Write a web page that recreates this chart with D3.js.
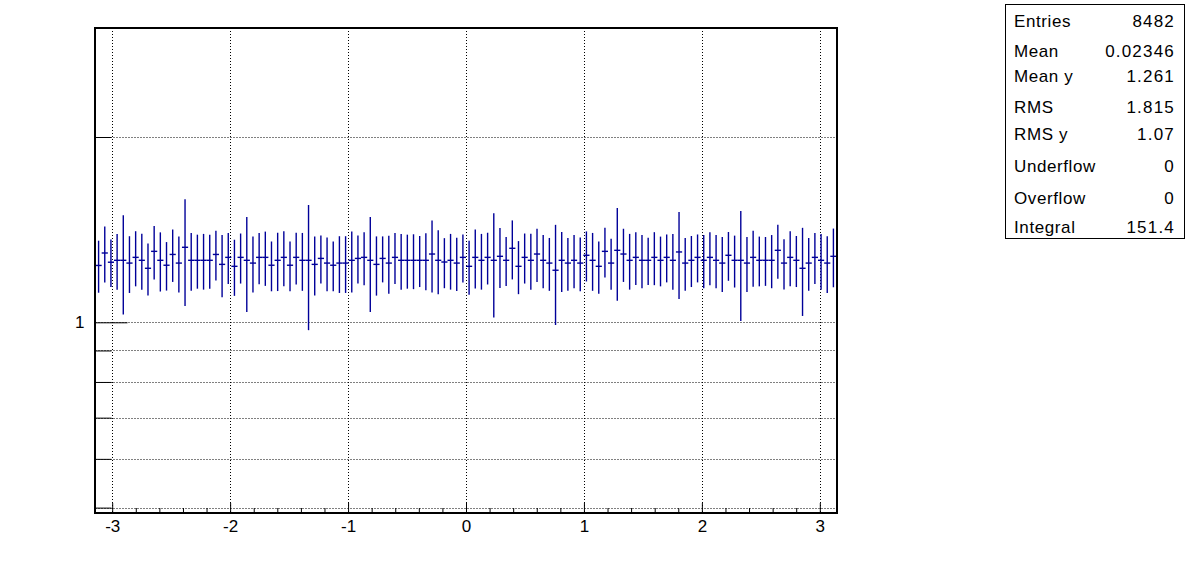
<!DOCTYPE html>
<html>
<head>
<meta charset="utf-8">
<script src="https://cdn.jsdelivr.net/npm/d3@7"></script>
<style>
  html, body { margin: 0; padding: 0; background: #fff; }
  svg { display: block; }
  text { font-family: "Liberation Sans", Arial, Helvetica, sans-serif; fill: #000; }
</style>
</head>
<body>
<svg id="chart" width="1196" height="572"></svg>
<script>
// ---- data (TProfile, 120 bins over [-pi, pi]) ----
const nBins = 120;
const xMin = -Math.PI, xMax = Math.PI;
const binMeans = [
  1.237, 1.296, 1.252, 1.261, 1.261, 1.248, 1.275, 1.261, 1.224, 1.304,
  1.261, 1.238, 1.289, 1.248, 1.324, 1.261, 1.261, 1.261, 1.261, 1.289,
  1.242, 1.275, 1.233, 1.275, 1.261, 1.248, 1.275, 1.275, 1.238, 1.261,
  1.275, 1.238, 1.275, 1.261, 1.261, 1.242, 1.270, 1.248, 1.238, 1.248,
  1.248, 1.261, 1.270, 1.275, 1.261, 1.242, 1.270, 1.248, 1.275, 1.261,
  1.261, 1.261, 1.261, 1.261, 1.291, 1.261, 1.253, 1.261, 1.248, 1.275,
  1.233, 1.275, 1.261, 1.275, 1.261, 1.280, 1.261, 1.319, 1.233, 1.275,
  1.261, 1.291, 1.261, 1.248, 1.215, 1.261, 1.248, 1.261, 1.248, 1.285,
  1.261, 1.233, 1.304, 1.248, 1.309, 1.291, 1.261, 1.275, 1.261, 1.261,
  1.275, 1.261, 1.275, 1.261, 1.301, 1.248, 1.261, 1.275, 1.261, 1.275,
  1.261, 1.248, 1.285, 1.261, 1.261, 1.248, 1.275, 1.261, 1.261, 1.261,
  1.309, 1.248, 1.275, 1.261, 1.224, 1.248, 1.275, 1.261, 1.248, 1.280
];
const binErrors = [
  0.120, 0.135, 0.111, 0.131, 0.231, 0.132, 0.131, 0.132, 0.119, 0.130,
  0.139, 0.112, 0.126, 0.130, 0.261, 0.136, 0.127, 0.131, 0.127, 0.120,
  0.144, 0.121, 0.129, 0.119, 0.222, 0.130, 0.122, 0.129, 0.115, 0.137,
  0.131, 0.115, 0.123, 0.136, 0.290, 0.137, 0.114, 0.125, 0.115, 0.132,
  0.132, 0.143, 0.114, 0.126, 0.222, 0.137, 0.109, 0.135, 0.121, 0.131,
  0.127, 0.129, 0.120, 0.134, 0.173, 0.150, 0.117, 0.131, 0.124, 0.114,
  0.124, 0.140, 0.131, 0.123, 0.243, 0.143, 0.115, 0.145, 0.122, 0.119,
  0.132, 0.128, 0.125, 0.123, 0.225, 0.141, 0.123, 0.125, 0.125, 0.120,
  0.136, 0.120, 0.121, 0.119, 0.225, 0.128, 0.131, 0.125, 0.125, 0.111,
  0.126, 0.117, 0.114, 0.131, 0.210, 0.123, 0.120, 0.114, 0.125, 0.126,
  0.125, 0.128, 0.117, 0.122, 0.256, 0.128, 0.133, 0.117, 0.115, 0.125,
  0.132, 0.117, 0.131, 0.120, 0.200, 0.123, 0.121, 0.131, 0.132, 0.140
];
const xMajorTicks = [-3, -2, -1, 0, 1, 2, 3];
const xMinorTicks = [-2.8, -2.6, -2.4, -2.2, -1.8, -1.6, -1.4, -1.2, -0.8, -0.6, -0.4, -0.2,
                     0.2, 0.4, 0.6, 0.8, 1.2, 1.4, 1.6, 1.8, 2.2, 2.4, 2.6, 2.8];
const yMajorTicks = [1];
const yMinorTicks = [0.5, 0.6, 0.7, 0.8, 0.9, 2];
const yDomain = [0.49, 3.007];
const statLabels = ["Entries", "Mean", "Mean y", "RMS", "RMS y", "Underflow", "Overflow", "Integral"];
const statValues = ["8482", "0.02346", "1.261", "1.815", "1.07", "0", "0", "151.4"];

// ---- layout ----
const plot = { left: 95.5, right: 836.5, top: 28, bottom: 513 };
const svg = d3.select("#chart");
svg.append("rect").attr("width", 1196).attr("height", 572).attr("fill", "#fff");

const x = d3.scaleLinear().domain([xMin, xMax]).range([plot.left, plot.right]);
const y = d3.scaleLog().domain(yDomain).range([plot.bottom, plot.top]);

// grid
const grid = svg.append("g").attr("stroke", "#000").attr("stroke-width", 1).attr("stroke-dasharray", "1,2");
grid.selectAll("line.vg").data(xMajorTicks).enter().append("line")
  .attr("x1", d => Math.round(x(d)) + 0.5).attr("x2", d => Math.round(x(d)) + 0.5)
  .attr("y1", plot.top).attr("y2", plot.bottom);
grid.selectAll("line.hg").data(yMajorTicks.concat(yMinorTicks)).enter().append("line")
  .attr("x1", plot.left).attr("x2", plot.right)
  .attr("y1", d => Math.round(y(d)) + 0.5).attr("y2", d => Math.round(y(d)) + 0.5);

// profile points
const binW = (xMax - xMin) / nBins;
const bins = binMeans.map((m, i) => ({
  lo: xMin + i * binW, hi: xMin + (i + 1) * binW, c: xMin + (i + 0.5) * binW,
  m: m, e: binErrors[i]
}));
const marks = svg.append("g").attr("stroke", "#000099").attr("stroke-width", 1.4).attr("fill", "none");
marks.selectAll("line.v").data(bins).enter().append("line")
  .attr("x1", d => x(d.c)).attr("x2", d => x(d.c))
  .attr("y1", d => y(d.m + d.e)).attr("y2", d => y(d.m - d.e));
marks.selectAll("line.h").data(bins).enter().append("line")
  .attr("x1", d => x(d.lo)).attr("x2", d => x(d.hi))
  .attr("y1", d => y(d.m)).attr("y2", d => y(d.m));

// axes
const xAxisMajor = d3.axisBottom(x).tickValues(xMajorTicks).tickSizeInner(-10).tickSizeOuter(0)
  .tickPadding(7).tickFormat(d3.format("d"));
const gx = svg.append("g").attr("transform", `translate(0,${plot.bottom})`).call(xAxisMajor);
const xAxisMinor = d3.axisBottom(x).tickValues(xMinorTicks).tickSizeInner(-5).tickSizeOuter(0).tickFormat("");
const gx2 = svg.append("g").attr("transform", `translate(0,${plot.bottom})`).call(xAxisMinor);

const yAxisMajor = d3.axisLeft(y).tickValues(yMajorTicks).tickSizeInner(-32).tickSizeOuter(0)
  .tickPadding(11).tickFormat(d3.format("d"));
const gy = svg.append("g").attr("transform", `translate(${plot.left},0)`).call(yAxisMajor);
const yAxisMinor = d3.axisLeft(y).tickValues(yMinorTicks).tickSizeInner(-16).tickSizeOuter(0).tickFormat("");
const gy2 = svg.append("g").attr("transform", `translate(${plot.left},0)`).call(yAxisMinor);

[gx, gx2, gy, gy2].forEach(g => {
  g.select(".domain").remove();
  g.selectAll("line").attr("stroke", "#000").attr("stroke-width", 1);
  g.selectAll("text").attr("font-family", "Liberation Sans, Arial, sans-serif").attr("font-size", 17).attr("fill", "#000");
});
gx.selectAll("text").text(d => d < 0 ? "-" + Math.abs(d) : String(d));

// frame
svg.append("rect")
  .attr("x", plot.left - 0.5).attr("y", plot.top)
  .attr("width", plot.right - plot.left + 1).attr("height", plot.bottom - plot.top)
  .attr("fill", "none").attr("stroke", "#000").attr("stroke-width", 2);

// stats box
const box = svg.append("g");
box.append("rect").attr("x", 1005.5).attr("y", 4.5).attr("width", 179).attr("height", 234)
  .attr("fill", "#fff").attr("stroke", "#000").attr("stroke-width", 1);
const baselines = [26.5, 56.5, 81.5, 113, 140, 171.5, 204, 233];
box.selectAll("text.lab").data(statLabels).enter().append("text")
  .attr("x", 1014).attr("y", (d, i) => baselines[i])
  .attr("font-size", 17).attr("letter-spacing", "0.6px").text(d => d);
box.selectAll("text.val").data(statValues).enter().append("text")
  .attr("x", 1175).attr("y", (d, i) => baselines[i])
  .attr("text-anchor", "end").attr("font-size", 17).attr("letter-spacing", "1.2px").text(d => d);
</script>
</body>
</html>
